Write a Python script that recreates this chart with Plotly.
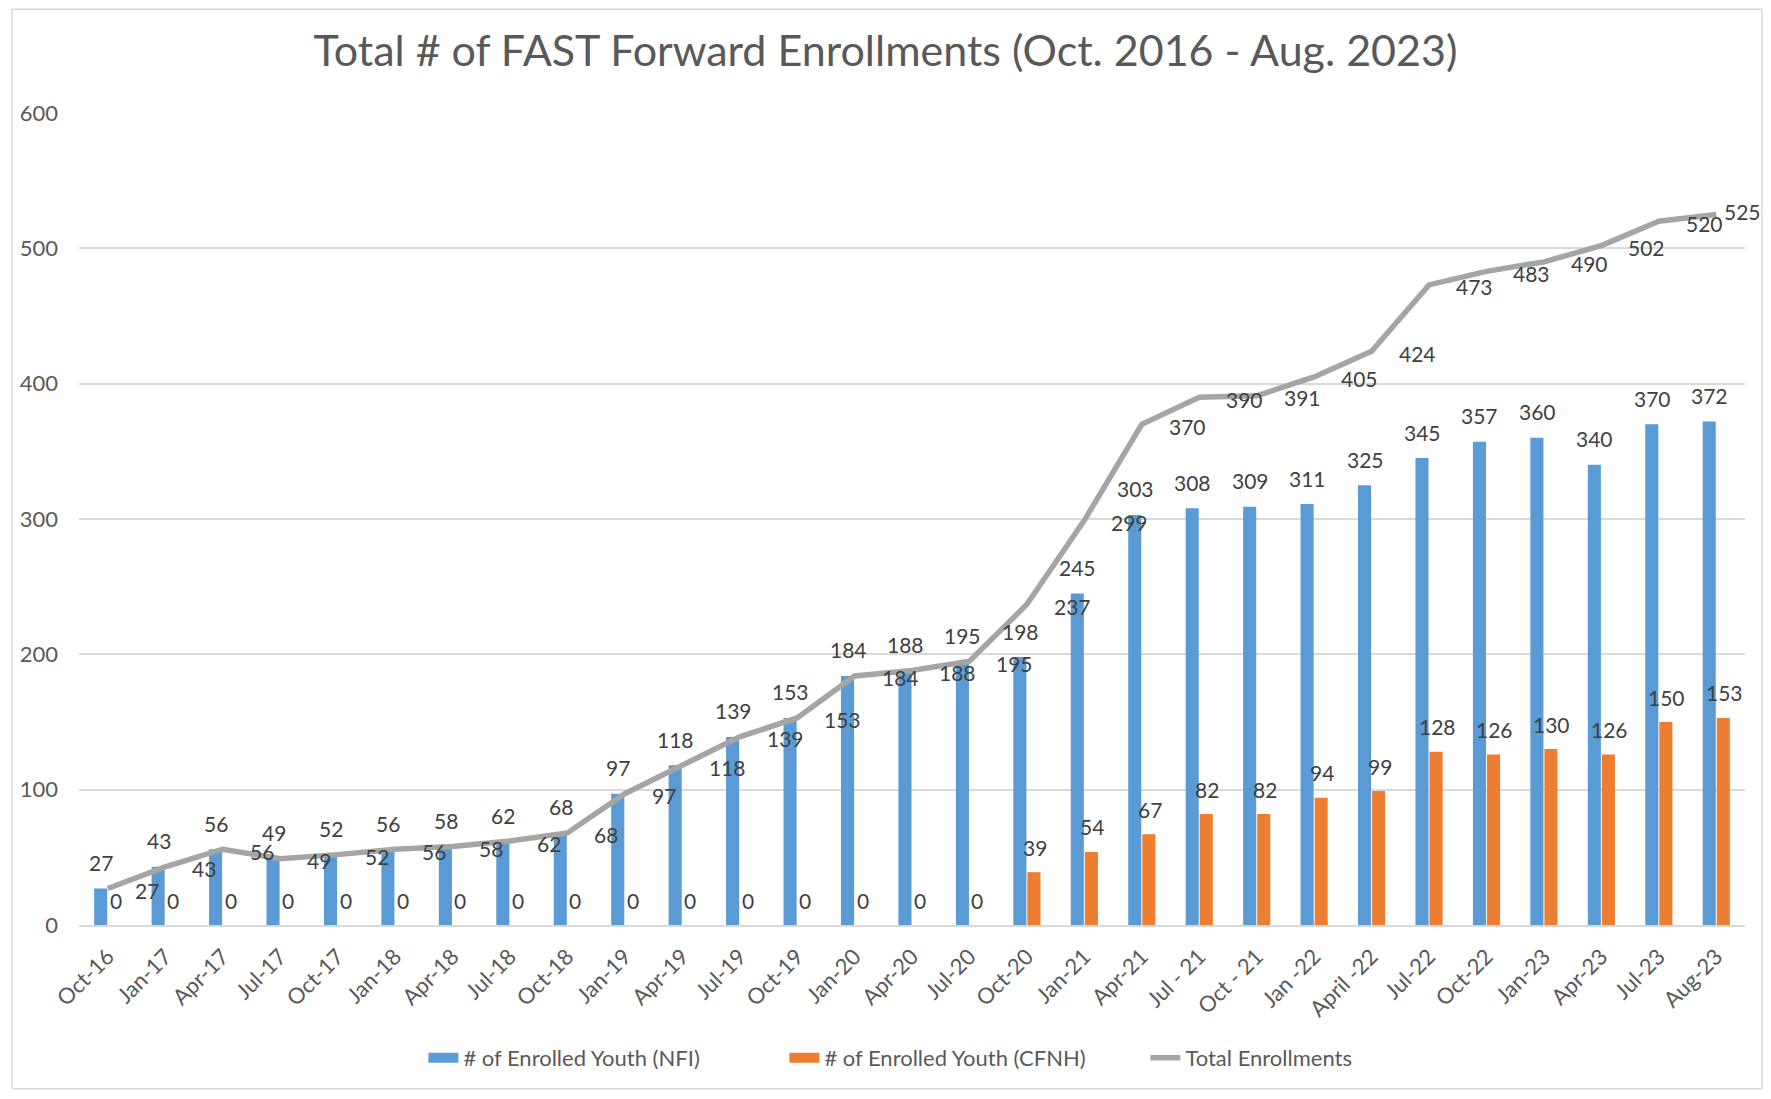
import plotly.graph_objects as go

categories = ["Oct-16", "Jan-17", "Apr-17", "Jul-17", "Oct-17", "Jan-18", "Apr-18", "Jul-18",
              "Oct-18", "Jan-19", "Apr-19", "Jul-19", "Oct-19", "Jan-20", "Apr-20", "Jul-20",
              "Oct-20", "Jan-21", "Apr-21", "Jul - 21", "Oct - 21", "Jan -22", "April -22",
              "Jul-22", "Oct-22", "Jan-23", "Apr-23", "Jul-23", "Aug-23"]
nfi = [27, 43, 56, 49, 52, 56, 58, 62, 68, 97, 118, 139, 153, 184, 188, 195,
       198, 245, 303, 308, 309, 311, 325, 345, 357, 360, 340, 370, 372]
cfnh = [0, 0, 0, 0, 0, 0, 0, 0, 0, 0, 0, 0, 0, 0, 0, 0,
        39, 54, 67, 82, 82, 94, 99, 128, 126, 130, 126, 150, 153]
total = [27, 43, 56, 49, 52, 56, 58, 62, 68, 97, 118, 139, 153, 184, 188, 195,
         237, 299, 370, 390, 391, 405, 424, 473, 483, 490, 502, 520, 525]
yticks = [0, 100, 200, 300, 400, 500, 600]

FONT = "Lato"
LABEL = "#404040"
TXT = "#595959"
BLUE, ORANGE, GRAY = "#5B9BD5", "#ED7D31", "#A5A5A5"
W, H = 1755, 1083
L, R, T, B = 68, 18, 105, 165
pw, ph = W - L - R, H - T - B
LBL = 21

fig = go.Figure()
fig.add_trace(go.Bar(x=categories, y=nfi, name="# of Enrolled Youth (NFI)",
                     marker=dict(color=BLUE, line=dict(width=0)), showlegend=False))
fig.add_trace(go.Bar(x=categories, y=cfnh, name="# of Enrolled Youth (CFNH)",
                     marker=dict(color=ORANGE, line=dict(width=0)), showlegend=False))
fig.add_trace(go.Scatter(x=categories, y=total, name="Total Enrollments", mode="lines",
                         line=dict(color=GRAY, width=5.5), showlegend=False))

# legend entries
fig.add_trace(go.Scatter(x=[None], y=[None], mode="lines", name="# of Enrolled Youth (NFI)",
                         line=dict(color=BLUE, width=14)))
fig.add_trace(go.Scatter(x=[None], y=[None], mode="lines", name="# of Enrolled Youth (CFNH)",
                         line=dict(color=ORANGE, width=14)))
fig.add_trace(go.Scatter(x=[None], y=[None], mode="lines", name="Total Enrollments",
                         line=dict(color=GRAY, width=5.5)))

annotations = []
for c, v in zip(categories, nfi):
    annotations.append(dict(x=c, y=v, text=str(v), showarrow=False, xshift=-6.5, yshift=26,
                            xanchor="center", yanchor="middle",
                            font=dict(family=FONT, size=LBL, color=LABEL)))
for c, v in zip(categories, cfnh):
    annotations.append(dict(x=c, y=v, text=str(v), showarrow=False, xshift=8, yshift=25,
                            xanchor="center", yanchor="middle",
                            font=dict(family=FONT, size=LBL, color=LABEL)))
for i, (c, v) in enumerate(zip(categories, total)):
    last = i == len(categories) - 1
    annotations.append(dict(x=c, y=v, text=str(v), showarrow=False,
                            xshift=6 if last else 25, yshift=3 if last else -2,
                            xanchor="left", yanchor="middle",
                            font=dict(family=FONT, size=LBL, color=LABEL)))

fig.update_layout(
    width=W, height=H,
    margin=dict(l=L, r=R, t=T, b=B),
    paper_bgcolor="white", plot_bgcolor="white",
    barmode="group", bargap=0.51, bargroupgap=0.07,
    title=dict(text="Total # of FAST Forward Enrollments (Oct. 2016 - Aug. 2023)",
               x=0.5, xanchor="center", y=1 - 43 / H, yanchor="middle",
               font=dict(family=FONT, size=43, color=TXT)),
    font=dict(family=FONT, color=TXT),
    showlegend=True,
    legend=dict(orientation="h", x=0.5 + 53 / pw, xanchor="center", y=(ph - (1051 - T)) / ph,
                yanchor="middle",
                font=dict(family=FONT, size=22, color=TXT), traceorder="normal", itemwidth=30,
                entrywidth=316, entrywidthmode="pixels"),
    xaxis=dict(type="category", range=[-0.5, len(categories) - 0.5], tickangle=-45,
               tickfont=dict(family=FONT, size=22, color=TXT), ticklabelstandoff=8,
               showline=True, linecolor="#D9D9D9", linewidth=2, ticks="", showgrid=False),
    yaxis=dict(range=[0, 600], tickvals=yticks, showgrid=True, gridcolor="#D9D9D9", gridwidth=1.5,
               zeroline=False, showline=False, ticks="", ticklabelstandoff=20,
               tickfont=dict(family=FONT, size=22, color=TXT)),
    annotations=annotations,
    shapes=[dict(type="rect", xref="paper", yref="paper",
                 x0=(1 - L) / pw, x1=(W - 1 - L) / pw,
                 y0=-(H - 1 - T - ph) / ph, y1=(T - 1) / ph + 1,
                 line=dict(color="#D9D9D9", width=1.5), fillcolor="rgba(0,0,0,0)", layer="below")],
)

fig.write_html("out.html")
